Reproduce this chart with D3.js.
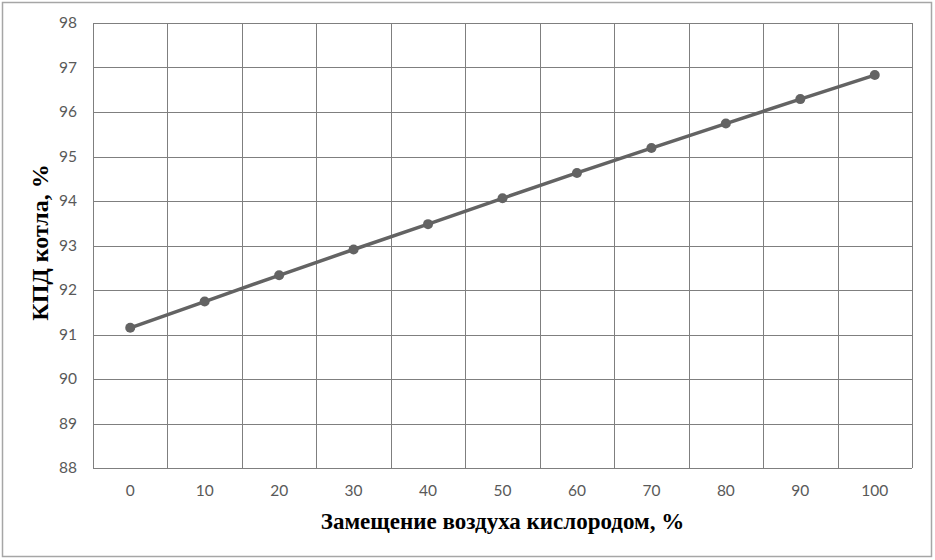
<!DOCTYPE html>
<html>
<head>
<meta charset="utf-8">
<script src="https://cdn.jsdelivr.net/npm/d3@7"></script>
<style>
  body { margin: 0; background: #fff; }
  svg { display: block; }
</style>
</head>
<body>
<svg id="chart" width="935" height="560"></svg>
<script>
// Data
const categories = [0, 10, 20, 30, 40, 50, 60, 70, 80, 90, 100];
const efficiency = [91.15, 91.74, 92.33, 92.91, 93.48, 94.06, 94.63, 95.19, 95.74, 96.29, 96.83];
const yTicks = [88, 89, 90, 91, 92, 93, 94, 95, 96, 97, 98];

const svg = d3.select("#chart");
const margin = { top: 23, right: 23, bottom: 92, left: 93 };
const width = +svg.attr("width") - margin.left - margin.right;
const height = +svg.attr("height") - margin.top - margin.bottom;

// outer frame
svg.append("rect")
    .attr("x", 2.5).attr("y", 2.5)
    .attr("width", 929).attr("height", 554)
    .attr("fill", "none")
    .attr("stroke", "#a6a6a6")
    .attr("stroke-width", 1.5);

const chart = svg.append("g")
    .attr("transform", `translate(${margin.left}, ${margin.top})`);

const x = d3.scaleBand()
    .domain(categories)
    .range([0, width]);

const y = d3.scaleLinear()
    .domain([88, 98])
    .range([height, 0]);

// grid
chart.append("g")
    .selectAll("line")
    .data(yTicks)
    .join("line")
    .attr("x1", 0).attr("x2", width)
    .attr("y1", d => Math.round(y(d)) + 0.5)
    .attr("y2", d => Math.round(y(d)) + 0.5)
    .attr("stroke", "#7f7f7f");

chart.append("g")
    .selectAll("line")
    .data(categories.concat(["end"]))
    .join("line")
    .attr("x1", (d, i) => Math.round(i * x.step()) + 0.5)
    .attr("x2", (d, i) => Math.round(i * x.step()) + 0.5)
    .attr("y1", 0).attr("y2", height)
    .attr("stroke", "#7f7f7f");

// axes (labels only)
const yAxis = chart.append("g")
    .call(d3.axisLeft(y).tickValues(yTicks).tickSize(0).tickPadding(16));
const xAxis = chart.append("g")
    .attr("transform", `translate(0, ${height})`)
    .call(d3.axisBottom(x).tickSize(0).tickPadding(17));

[yAxis, xAxis].forEach(a => {
    a.select(".domain").remove();
    a.selectAll("text")
        .attr("font-family", "Lato, 'Open Sans', sans-serif")
        .attr("font-size", 15.5)
        .attr("fill", "#595959");
});

// series
const line = d3.line()
    .x((d, i) => x(categories[i]) + x.bandwidth() / 2)
    .y(d => y(d));

chart.append("path")
    .datum(efficiency)
    .attr("d", line)
    .attr("fill", "none")
    .attr("stroke", "#636363")
    .attr("stroke-width", 3.5);

chart.append("g")
    .selectAll("circle")
    .data(efficiency)
    .join("circle")
    .attr("cx", (d, i) => x(categories[i]) + x.bandwidth() / 2)
    .attr("cy", d => y(d))
    .attr("r", 5)
    .attr("fill", "#636363");

// axis titles
svg.append("text")
    .attr("x", margin.left + width / 2)
    .attr("y", 529)
    .attr("text-anchor", "middle")
    .attr("font-family", "'Liberation Serif', 'Times New Roman', serif")
    .attr("font-weight", "bold")
    .attr("font-size", 23)
    .attr("fill", "#000")
    .text("Замещение воздуха кислородом, %");

svg.append("text")
    .attr("transform", `translate(48, ${margin.top + height / 2 - 3}) rotate(-90)`)
    .attr("text-anchor", "middle")
    .attr("font-family", "'Liberation Serif', 'Times New Roman', serif")
    .attr("font-weight", "bold")
    .attr("font-size", 24)
    .attr("fill", "#000")
    .text("КПД котла, %");
</script>
</body>
</html>
